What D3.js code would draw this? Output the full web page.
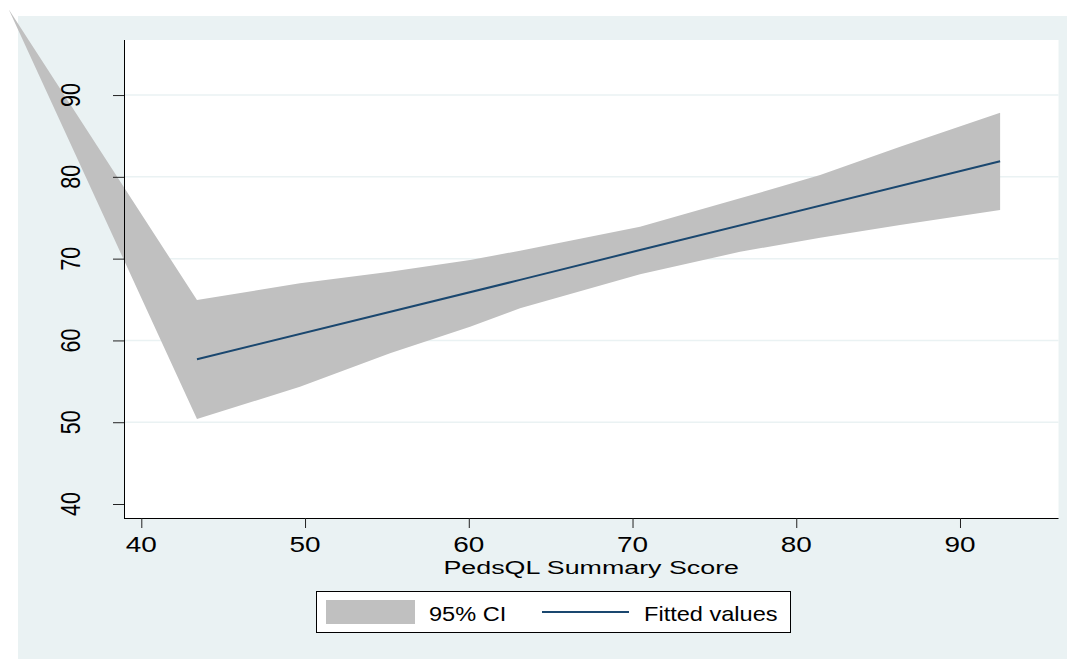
<!DOCTYPE html>
<html>
<head>
<meta charset="utf-8">
<script src="https://cdn.jsdelivr.net/npm/d3@7"></script>
<style>
  body { margin: 0; background: #fff; }
  text { font-family: "Liberation Sans", Arial, sans-serif; fill: #000; }
</style>
</head>
<body>
<svg width="1067" height="659"></svg>
<script>
// values
const ciX     = [31.9, 43.4, 49.69, 55.19, 60.08, 63.13, 70.46, 76.57, 81.46, 86.34, 92.45];
const ciUpper = [100.5, 64.94, 66.98, 68.40, 69.83, 70.97, 73.90, 77.37, 80.22, 83.68, 87.84];
const ciLower = [100.5, 50.39, 54.34, 58.42, 61.67, 63.92, 68.08, 70.84, 72.56, 74.10, 75.94];
const fitX = [43.4, 63.13, 70.46, 92.45];
const fitY = [57.7, 67.4, 71.05, 81.9];
const xTicks = [40, 50, 60, 70, 80, 90];
const yTicks = [40, 50, 60, 70, 80, 90];
const xTitle = "PedsQL Summary Score";
const legendLabels = ["95% CI", "Fitted values"];

const svg = d3.select("svg");
const bg = "#EAF2F3";
const ciColor = "#C0C0C0";
const lineColor = "#1A476F";

// outer graph region
svg.append("rect")
    .attr("x", 18).attr("y", 16)
    .attr("width", 1067 - 18).attr("height", 659 - 16)
    .attr("fill", bg);

const plotL = 124, plotR = 1058.5, plotT = 40, plotB = 518;
svg.append("rect")
    .attr("x", plotL).attr("y", plotT)
    .attr("width", plotR - plotL).attr("height", plotB - plotT)
    .attr("fill", "#fff");

const x = d3.scaleLinear().domain([38.943, 96.016]).range([plotL, plotR]);
const y = d3.scaleLinear().domain([38.29, 96.73]).range([plotB, plotT]);

// grid lines
svg.append("g")
    .selectAll("line")
    .data(yTicks.filter(d => d > 40))
    .join("line")
    .attr("x1", plotL).attr("x2", plotR)
    .attr("y1", d => y(d)).attr("y2", d => y(d))
    .attr("stroke", bg)
    .attr("stroke-width", 1.5);

// confidence band (not clipped, as in the original)
const band = ciX.map((v, i) => ({x: v, lo: ciLower[i], hi: ciUpper[i]}));
const area = d3.area()
    .x(d => x(d.x))
    .y0(d => y(d.lo))
    .y1(d => y(d.hi));
svg.append("path")
    .attr("d", area(band))
    .attr("fill", ciColor);

// fitted line
const line = d3.line()
    .x(d => x(d[0]))
    .y(d => y(d[1]));
svg.append("path")
    .attr("d", line(fitX.map((v, i) => [v, fitY[i]])))
    .attr("fill", "none")
    .attr("stroke", lineColor)
    .attr("stroke-width", 2);

// axes
const xAxis = svg.append("g")
    .attr("transform", `translate(0,${plotB})`)
    .call(d3.axisBottom(x).tickValues(xTicks).tickSize(10).tickFormat(""));
xAxis.select(".domain").attr("d", `M${plotL},0.5H${plotR}`).attr("stroke", "#000");
xAxis.selectAll(".tick line").attr("stroke", "#222");

const yAxis = svg.append("g")
    .attr("transform", `translate(${plotL},0)`)
    .call(d3.axisLeft(y).tickValues(yTicks).tickSize(11).tickFormat(""));
yAxis.select(".domain").attr("d", `M0.5,${plotT}V${plotB}`).attr("stroke", "#000");
yAxis.selectAll(".tick line").attr("stroke", "#222");

// text is stretched horizontally in the original
svg.append("g")
    .selectAll("text")
    .data(xTicks)
    .join("text")
    .attr("transform", d => `translate(${x(d)},552) scale(1.3,1)`)
    .attr("text-anchor", "middle")
    .style("font-size", "21.5px")
    .text(d => d);

svg.append("g")
    .selectAll("text")
    .data(yTicks)
    .join("text")
    .attr("transform", d => `translate(80,${y(d)}) scale(1.3,1) rotate(-90)`)
    .attr("text-anchor", "middle")
    .style("font-size", "21.5px")
    .text(d => d);

svg.append("text")
    .attr("transform", `translate(${(plotL + plotR) / 2},573.5) scale(1.45,1)`)
    .attr("text-anchor", "middle")
    .style("font-size", "18.5px")
    .text(xTitle);

// legend
const legend = svg.append("g");
legend.append("rect")
    .attr("x", 316.5).attr("y", 591.5)
    .attr("width", 474).attr("height", 41)
    .attr("fill", "#fff")
    .attr("stroke", "#000");
legend.append("rect")
    .attr("x", 326).attr("y", 600)
    .attr("width", 89).attr("height", 24)
    .attr("fill", ciColor);
legend.append("line")
    .attr("x1", 542).attr("x2", 629)
    .attr("y1", 612).attr("y2", 612)
    .attr("stroke", lineColor)
    .attr("stroke-width", 2);
legend.selectAll("text.lab")
    .data(legendLabels)
    .join("text")
    .attr("class", "lab")
    .attr("transform", (d, i) => `translate(${i ? 644 : 429},620.5) scale(1.15,1)`)
    .style("font-size", "20.5px")
    .text(d => d);
</script>
</body>
</html>
